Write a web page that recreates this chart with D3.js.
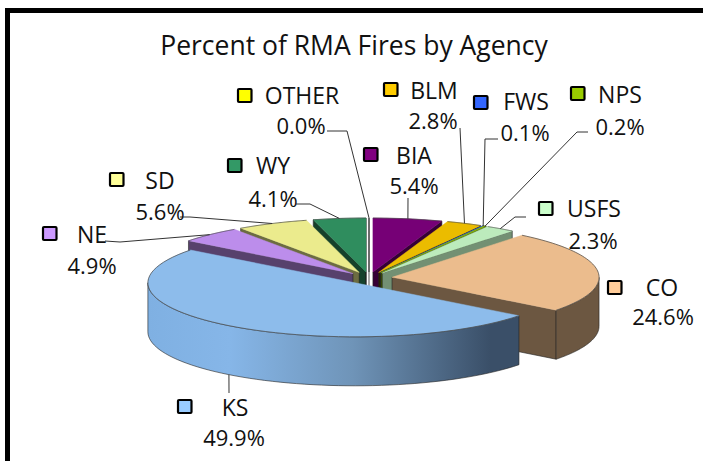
<!DOCTYPE html>
<html>
<head>
<meta charset="utf-8">
<script src="https://cdn.jsdelivr.net/npm/d3@7"></script>
<style>
  html, body { margin: 0; padding: 0; background: #fff; }
  svg { display: block; }
  text { font-family: "Open Sans", sans-serif; fill: #111; text-anchor: middle; dominant-baseline: central; }
</style>
</head>
<body>
<svg class="chart"></svg>
<script>
// chart data, clockwise from 12 o'clock
var agencies = ["BIA", "BLM", "FWS", "NPS", "USFS", "CO", "KS", "NE", "SD", "WY", "OTHER"];
var percents = [5.4, 2.8, 0.1, 0.2, 2.3, 24.6, 49.9, 4.9, 5.6, 4.1, 0.0];
var keyColors = ["#800080", "#ffcc00", "#3366ff", "#99cc00", "#ccffcc", "#ffcc99", "#99ccff", "#cc99ff", "#ffff99", "#339966", "#ffff00"];
var chartTitle = "Percent of RMA Fires by Agency";

// where each label sits: key box, name, percent, and the leader's free end
var labelSpots = {
  BIA:   {key: [364, 148], name: [414, 155], pct: [414, 185], leader: [[408, 198]]},
  BLM:   {key: [384, 83],  name: [434, 90],  pct: [433, 120], leader: [[460, 128]]},
  FWS:   {key: [474, 96],  name: [526, 101], pct: [525, 132], leader: [[498, 139], [485, 139]]},
  NPS:   {key: [571, 87],  name: [620, 94],  pct: [620, 126], leader: [[588, 132], [577, 132]]},
  USFS:  {key: [539, 202], name: [594, 208], pct: [593, 240], leader: [[526, 217], [515, 217]]},
  CO:    {key: [608, 281], name: [662, 287], pct: [663, 316], leader: null},
  KS:    {key: [178, 400], name: [235, 407], pct: [234, 437], leader: [[229, 393]]},
  NE:    {key: [43, 227],  name: [92, 234],  pct: [92, 265],  leader: [[105, 241], [120, 242]]},
  SD:    {key: [110, 173], name: [160, 180], pct: [160, 211], leader: [[180, 217], [190, 217]]},
  WY:    {key: [228, 159], name: [273, 165], pct: [273, 198], leader: [[296, 204], [310, 204]]},
  OTHER: {key: [238, 89],  name: [302, 95],  pct: [301, 125], leader: [[327, 131], [347, 131]]}
};

var width = 703, height = 461;

// the pie is a tilted disc: circle squashed vertically, with a drop for the thickness
var rx = 207, ry = 54, depth = 49, explode = 23.2;
var cx = 369, cy = 278;
var squash = ry / rx;

// how dark the cut faces get; the two thin slices next to USFS read differently
var wallShade = {USFS: 1.6, BLM: 5};

var svg = d3.select("svg.chart").attr("width", width).attr("height", height);

// frame
svg.append("rect").attr("x", 7.5).attr("y", 10.5).attr("width", 720).attr("height", 480)
  .attr("fill", "#fff").attr("stroke", "#000").attr("stroke-width", 5);

svg.append("text").attr("x", 354).attr("y", 45).attr("font-size", 26.5).text(chartTitle);

var color = d3.scaleOrdinal().domain(agencies).range(keyColors);

var pieData = d3.pie().sort(null).value(function(d, i) { return percents[i]; })(agencies);

pieData.forEach(function(d) {
  var mid = (d.startAngle + d.endAngle) / 2;
  d.x0 = cx + explode * Math.sin(mid);
  d.y0 = cy - explode * squash * Math.cos(mid);
  d.mid = mid;
});

function rimPoint(d, a, drop) {
  return [d.x0 + rx * Math.sin(a), d.y0 - ry * Math.cos(a) + (drop || 0)];
}

function arcSteps(a0, a1) {
  return d3.range(0, 61).map(function(i) { return a0 + (a1 - a0) * i / 60; });
}

var arcTop = d3.arc().innerRadius(0).outerRadius(rx);
var line = d3.line();

// KS wall fades from light blue on the left to slate on the right
var grad = svg.append("defs").append("linearGradient").attr("id", "ksWall")
  .attr("gradientUnits", "userSpaceOnUse")
  .attr("x1", 148).attr("x2", 520).attr("y1", 0).attr("y2", 0);
grad.selectAll("stop")
  .data([[0, "#7fb0e2"], [0.22, "#86b6e8"], [0.55, "#6f94b8"], [0.92, "#3a4f68"], [1, "#3a4f68"]])
  .enter().append("stop")
  .attr("offset", function(d) { return d[0]; })
  .attr("stop-color", function(d) { return d[1]; });

// back slices first, front ones over them
var drawOrder = pieData.slice().sort(function(a, b) {
  return (a.y0 - ry * Math.cos(a.mid)) - (b.y0 - ry * Math.cos(b.mid));
});

var slices = svg.append("g").selectAll("g")
  .data(drawOrder)
  .enter().append("g");

slices.each(function(d) {
  var g = d3.select(this);
  var top = d3.rgb(color(d.data)).darker(0.23);
  var side = d3.rgb(color(d.data)).darker(wallShade[d.data] || 2.4);
  var empty = d.endAngle - d.startAngle < 1e-6;

  // flat cut faces, only the ones turned towards the viewer
  [[d.startAngle, Math.sin(d.startAngle) < 0], [d.endAngle, Math.sin(d.endAngle) > 0]].forEach(function(w) {
    if (!w[1]) return;
    var r = rimPoint(d, w[0]);
    g.append("path")
      .attr("d", line([[d.x0, d.y0], r, [r[0], r[1] + depth], [d.x0, d.y0 + depth]]) + "Z")
      .attr("fill", side).attr("stroke", empty ? "#555" : "#222").attr("stroke-width", 0.6);
  });

  // curved wall, the part of the rim facing front
  var a0 = Math.max(d.startAngle, Math.PI / 2), a1 = Math.min(d.endAngle, Math.PI * 1.5);
  if (a1 > a0) {
    var steps = arcSteps(a0, a1);
    var upper = steps.map(function(a) { return rimPoint(d, a); });
    var lower = steps.slice().reverse().map(function(a) { return rimPoint(d, a, depth); });
    g.append("path")
      .attr("d", line(upper.concat(lower)) + "Z")
      .attr("fill", d.data === "KS" ? "url(#ksWall)" : side)
      .attr("stroke", "#222").attr("stroke-width", 0.6);
  }

  g.append("path")
    .attr("transform", "translate(" + d.x0 + "," + d.y0 + ") scale(1," + squash + ")")
    .attr("d", arcTop({startAngle: d.startAngle, endAngle: d.endAngle}))
    .attr("fill", top)
    .attr("stroke", empty ? "#555" : top).attr("stroke-width", empty ? 1.4 : 0.5)
    .attr("vector-effect", "non-scaling-stroke");

  // only the rim gets an outline, the cut edges of the top stay soft
  g.append("path")
    .attr("d", line(arcSteps(d.startAngle, d.endAngle).map(function(a) { return rimPoint(d, a); })))
    .attr("fill", "none")
    .attr("stroke", "#444").attr("stroke-width", 0.7);
});

// leaders and labels
var labels = svg.append("g").selectAll("g").data(pieData).enter().append("g");

labels.filter(function(d) { return labelSpots[d.data].leader; })
  .append("path")
  .attr("fill", "none").attr("stroke", "#333").attr("stroke-width", 1)
  .attr("d", function(d) {
    var front = Math.cos(d.mid) < -0.5;
    return line(labelSpots[d.data].leader.concat([rimPoint(d, d.mid, front ? depth : 0)]));
  });

labels.append("rect")
  .attr("x", function(d) { return labelSpots[d.data].key[0]; })
  .attr("y", function(d) { return labelSpots[d.data].key[1]; })
  .attr("width", 13.5).attr("height", 13).attr("rx", 1)
  .attr("fill", function(d) { return color(d.data); })
  .attr("stroke", "#000").attr("stroke-width", 2.2);

labels.append("text")
  .attr("x", function(d) { return labelSpots[d.data].name[0]; })
  .attr("y", function(d) { return labelSpots[d.data].name[1]; })
  .attr("font-size", 23)
  .text(function(d) { return d.data; });

labels.append("text")
  .attr("x", function(d) { return labelSpots[d.data].pct[0]; })
  .attr("y", function(d) { return labelSpots[d.data].pct[1]; })
  .attr("font-size", 22)
  .text(function(d) { return percents[agencies.indexOf(d.data)].toFixed(1) + "%"; });
</script>
</body>
</html>
